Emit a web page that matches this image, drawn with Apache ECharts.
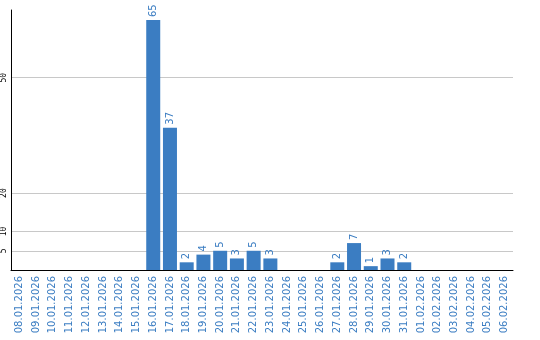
<!DOCTYPE html>
<html><head><meta charset="utf-8">
<script src="https://cdn.jsdelivr.net/npm/echarts@6/dist/echarts.min.js"></script>
<style>html,body{margin:0;padding:0;background:#fff}#c{width:540px;height:340px}</style>
</head><body><div id="c"></div>
<script>
const categories = ["08.01.2026","09.01.2026","10.01.2026","11.01.2026","12.01.2026","13.01.2026","14.01.2026","15.01.2026","16.01.2026","17.01.2026","18.01.2026","19.01.2026","20.01.2026","21.01.2026","22.01.2026","23.01.2026","24.01.2026","25.01.2026","26.01.2026","27.01.2026","28.01.2026","29.01.2026","30.01.2026","31.01.2026","01.02.2026","02.02.2026","03.02.2026","04.02.2026","05.02.2026","06.02.2026"];
const values = [0,0,0,0,0,0,0,0,65,37,2,4,5,3,5,3,0,0,0,2,7,1,3,2,0,0,0,0,0,0];
const yTicks = [5,10,20,50];

const blue = '#3b7dc2';
const chart = echarts.init(document.getElementById('c'), null, {renderer:'canvas'});
chart.setOption({
  animation:false,
  grid:{left:11,right:27,top:10,bottom:70},
  xAxis:{
    type:'category', data:categories,
    axisLine:{lineStyle:{color:'#000',width:1}},
    axisTick:{show:false},
    axisLabel:{rotate:90, color:blue, fontFamily:'DejaVu Sans', fontSize:10, margin:6, interval:0}
  },
  yAxis:{
    type:'value', min:0, max:67.6,
    axisLine:{show:true, lineStyle:{color:'#000',width:1}},
    axisTick:{show:false, customValues:yTicks},
    axisLabel:{customValues:yTicks, rotate:90, color:'#000', fontFamily:'DejaVu Sans Mono', fontSize:8, margin:3},
    splitLine:{show:true, lineStyle:{color:'#c8c8c8', width:1}}
  },
  series:[{
    type:'bar', data:values, barWidth:14,
    itemStyle:{color:blue},
    label:{show:true, position:'top', rotate:90, align:'left', verticalAlign:'middle', distance:3,
      color:blue, fontFamily:'DejaVu Sans', fontSize:10,
      formatter:p=>p.value?String(p.value):''}
  }]
});
</script></body></html>
